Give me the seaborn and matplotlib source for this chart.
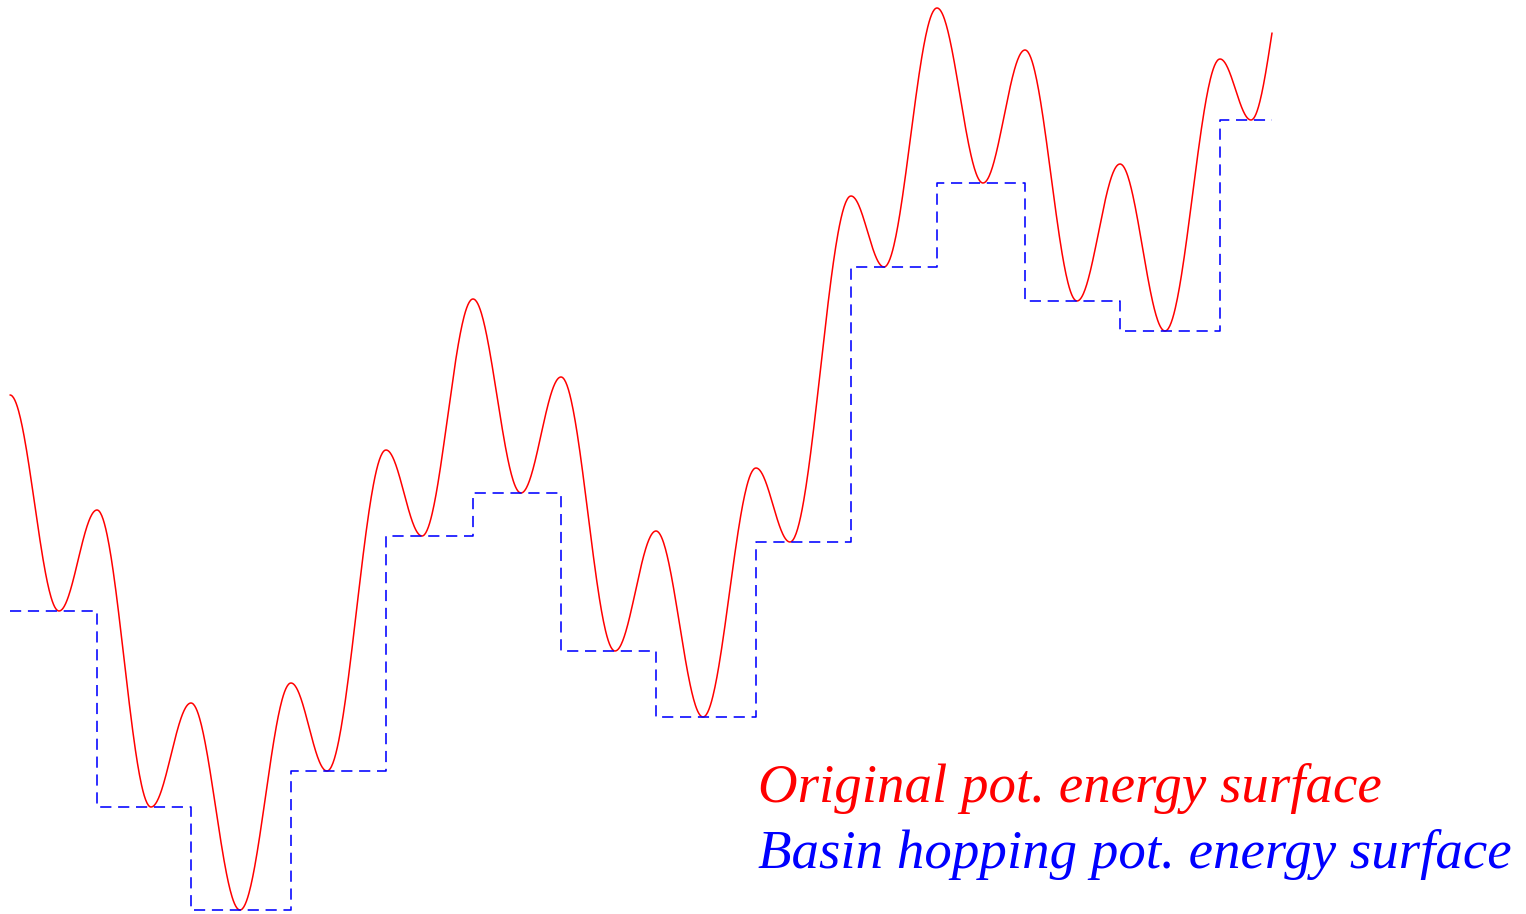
import numpy as np
import pandas as pd
import matplotlib
matplotlib.use("Agg")
import matplotlib.pyplot as plt
import seaborn as sns

# Extrema of the original potential energy surface (alternating max/min)
extrema_x = [0.10, 0.59, 0.97, 1.51, 1.91, 2.40, 2.91, 3.27, 3.86, 4.22, 4.73, 5.21, 5.61, 6.15,
             6.56, 7.03, 7.56, 7.90, 8.51, 8.84, 9.37, 9.83, 10.25, 10.77, 11.20, 11.65, 12.20, 12.51]
extrema_e = [5.19, 3.03, 4.04, 1.07, 2.11, 0.04, 2.31, 1.43, 4.64, 3.78, 6.15, 4.21, 5.37, 2.63,
             3.83, 1.97, 4.46, 3.72, 7.18, 6.47, 9.06, 7.31, 8.64, 6.13, 7.50, 5.83, 8.55, 7.94]
end_x = 12.72
end_e = 8.81

# Basin hopping surface: step edges (barrier positions) and basin levels
step_edges = [0.10, 0.97, 1.91, 2.91, 3.86, 4.73, 5.61, 6.56, 7.56, 8.51, 9.37, 10.25, 11.20, 12.20, 12.72]
basin_levels = [3.03, 1.07, 0.04, 1.43, 3.78, 4.21, 2.63, 1.97, 3.72, 6.47, 7.31, 6.13, 5.83, 7.94]

labels = ["Original pot. energy surface", "Basin hopping pot. energy surface"]

# Build smooth curve between extrema (half-cosine shape between consecutive extrema)
xs, es = [], []
for i in range(len(extrema_x) - 1):
    t = np.linspace(0, 1, 80, endpoint=False)
    x0, x1 = extrema_x[i], extrema_x[i + 1]
    e0, e1 = extrema_e[i], extrema_e[i + 1]
    xs.append(x0 + (x1 - x0) * t)
    es.append(e0 + (e1 - e0) * (1 - np.cos(np.pi * t)) / 2)
t = np.linspace(0, 1, 60)
x0, e0 = extrema_x[-1], extrema_e[-1]
xs.append(x0 + (end_x - x0) * t)
es.append(e0 + (end_e - e0) * (1 - np.cos(np.pi * t / 2)))
curve = pd.DataFrame({"x": np.concatenate(xs), "e": np.concatenate(es)})

steps = pd.DataFrame({"x": step_edges, "e": basin_levels + [basin_levels[-1]]})

sns.set_theme(style="white")
fig = plt.figure(figsize=(15.26, 9.14), dpi=100)
ax = fig.add_axes([0, 0, 1, 1])

sns.lineplot(data=curve, x="x", y="e", ax=ax, color="#ff0000", linewidth=1.1,
             sort=False, estimator=None)
sns.lineplot(data=steps, x="x", y="e", ax=ax, color="#0000ff", linewidth=1.15,
             sort=False, estimator=None, drawstyle="steps-post",
             linestyle=(0, (7.0, 4.2)))

ax.set_xlim(0, 15.26)
ax.set_ylim(0, 9.14)
ax.axis("off")

ax.text(7.58, 1.12, labels[0], color="#ff0000", fontsize=39.5, family="Liberation Serif",
        style="italic", va="baseline", ha="left")
ax.text(7.58, 0.46, labels[1], color="#0000ff", fontsize=39.5, family="Liberation Serif",
        style="italic", va="baseline", ha="left")

fig.savefig("out.png", dpi=100, facecolor="white")
